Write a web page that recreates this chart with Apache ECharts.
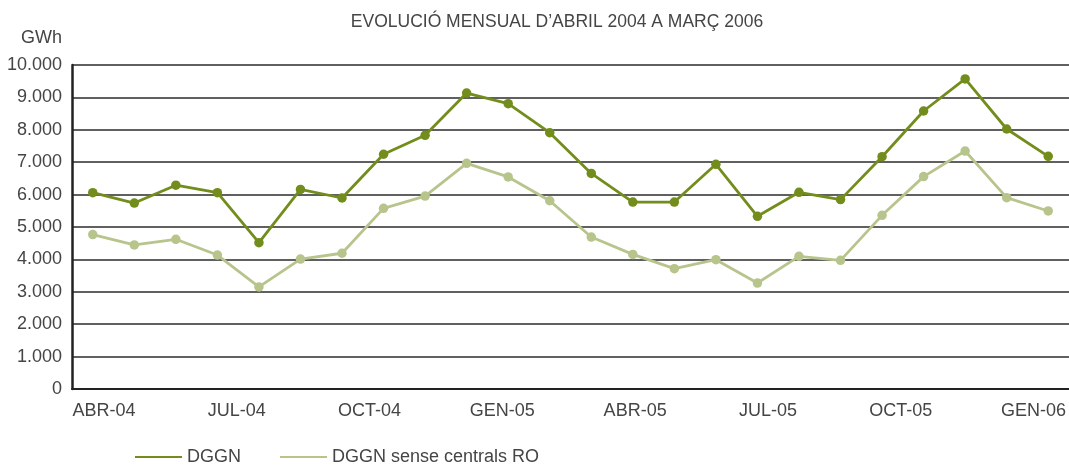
<!DOCTYPE html>
<html>
<head>
<meta charset="utf-8">
<script src="https://cdn.jsdelivr.net/npm/echarts@6/dist/echarts.min.js"></script>
<style>
  html, body { margin: 0; padding: 0; background: #ffffff; }
  #chart { width: 1069px; height: 465px; }
</style>
</head>
<body>
<div id="chart"></div>
<script>
// Months from April 2004 to March 2006
const months = [
  'ABR-04', 'MAI-04', 'JUN-04', 'JUL-04', 'AGO-04', 'SET-04',
  'OCT-04', 'NOV-04', 'DES-04', 'GEN-05', 'FEB-05', 'MAR-05',
  'ABR-05', 'MAI-05', 'JUN-05', 'JUL-05', 'AGO-05', 'SET-05',
  'OCT-05', 'NOV-05', 'DES-05', 'GEN-06', 'FEB-06', 'MAR-06'
];

// Tick labels shown under the axis (quarterly)
const tickLabels = ['ABR-04', 'JUL-04', 'OCT-04', 'GEN-05', 'ABR-05', 'JUL-05', 'OCT-05', 'GEN-06'];

// Monthly demand, GWh
const dggn = [
  6060, 5740, 6290, 6060, 4515, 6160, 5895, 7245, 7830, 9135, 8805, 7910,
  6655, 5770, 5770, 6935, 5330, 6070, 5845, 7170, 8580, 9570, 8025, 7180
];
const dggnSenseRO = [
  4765, 4445, 4620, 4135, 3150, 4010, 4190, 5575, 5955, 6965, 6545, 5810,
  4690, 4155, 3715, 3990, 3270, 4095, 3970, 5360, 6555, 7345, 5905, 5495
];

const dark = '#738d1d';
const light = '#b7c58d';
const textColor = '#454545';
const fontFamily = '"Liberation Sans", Arial, Helvetica, sans-serif';

const chart = echarts.init(document.getElementById('chart'));

chart.setOption({
  animation: false,
  backgroundColor: '#ffffff',
  textStyle: { fontFamily: fontFamily },
  title: {
    text: 'EVOLUCIÓ MENSUAL D’ABRIL 2004 A MARÇ 2006',
    left: 552,
    textAlign: 'center',
    top: 8,
    textStyle: { fontFamily: fontFamily, fontSize: 17.5, fontWeight: 'normal', color: textColor }
  },
  legend: {
    left: 130,
    top: 443,
    itemWidth: 47,
    itemHeight: 2,
    itemGap: 39,
    icon: 'rect',
    textStyle: { fontFamily: fontFamily, fontSize: 18, color: textColor },
    data: ['DGGN', 'DGGN sense centrals RO']
  },
  grid: [
    { left: 72, right: 0, top: 65, bottom: 76, containLabel: false },
    { left: 104, right: 33, top: 65, bottom: 76, containLabel: false }
  ],
  xAxis: [
    {
      type: 'category',
      gridIndex: 0,
      data: months,
      boundaryGap: true,
      axisLine: { show: true, lineStyle: { color: '#222', width: 2 } },
      axisTick: { show: false },
      axisLabel: { show: false },
      splitLine: { show: false }
    },
    {
      type: 'category',
      gridIndex: 1,
      data: tickLabels,
      boundaryGap: false,
      axisLine: { show: false },
      axisTick: { show: false },
      axisLabel: { show: true, margin: 13, fontSize: 18, color: textColor, fontFamily: fontFamily, interval: 0 },
      splitLine: { show: false }
    }
  ],
  yAxis: [
    {
      type: 'value',
      gridIndex: 0,
      min: 0,
      max: 10000,
      interval: 1000,
      name: 'GWh',
      nameLocation: 'end',
      nameGap: 18,
      nameTextStyle: { fontFamily: fontFamily, fontSize: 18, color: textColor, align: 'right', padding: [0, 10, 0, 0] },
      axisLine: { show: true, lineStyle: { color: '#222', width: 2.5 } },
      axisTick: { show: false },
      axisLabel: {
        margin: 10,
        fontSize: 18,
        color: textColor,
        fontFamily: fontFamily,
        formatter: v => v === 0 ? '0' : v.toLocaleString('de-DE')
      },
      splitLine: { show: true, lineStyle: { color: '#2b2b2b', width: 1.5 } }
    },
    {
      type: 'value',
      gridIndex: 1,
      show: false,
      min: 0,
      max: 10000
    }
  ],
  series: [
    {
      name: 'DGGN',
      type: 'line',
      xAxisIndex: 0,
      yAxisIndex: 0,
      data: dggn,
      symbol: 'circle',
      symbolSize: 9.5,
      lineStyle: { color: dark, width: 2.8 },
      itemStyle: { color: dark },
      z: 3
    },
    {
      name: 'DGGN sense centrals RO',
      type: 'line',
      xAxisIndex: 0,
      yAxisIndex: 0,
      data: dggnSenseRO,
      symbol: 'circle',
      symbolSize: 9.5,
      lineStyle: { color: light, width: 2.8 },
      itemStyle: { color: light },
      z: 2
    }
  ]
});
</script>
</body>
</html>
